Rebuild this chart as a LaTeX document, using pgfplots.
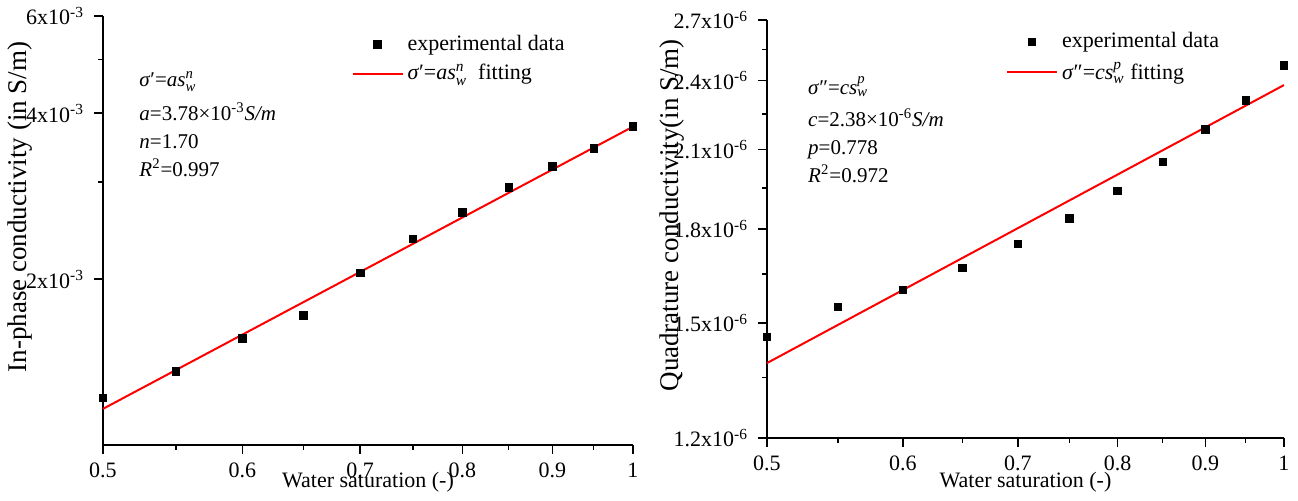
\documentclass[border=0pt]{standalone}
\usepackage{amsmath}
\usepackage{fontspec}
\setmainfont{Liberation Serif}
\usepackage{pgfplots}
\pgfplotsset{compat=1.18}
\pgfplotsset{
  legend image code/.code={\draw[mark repeat=2,mark phase=2,#1] plot coordinates {(0pt,0pt) (12.5pt,0pt) (25pt,0pt)};},
}
\pgfplotsset{
  mystyle/.style={
    scale only axis,
    xmin=0.5, xmax=1,
    axis x line*=bottom, axis y line*=left,
    axis line style={-, line width=0.7pt},
    tick align=outside,
    major tick length=4.5pt, minor tick length=2.5pt,
    every tick/.style={black, line width=0.7pt},
    xtick={0.5,0.6,0.7,0.8,0.9,1},
    xticklabels={0.5,0.6,0.7,0.8,0.9,1},
    minor xtick={0.55,0.65,0.75,0.85,0.95},
    tick label style={font=\fontsize{11}{13}\selectfont},
    xticklabel style={yshift=-1pt},
    yticklabel style={xshift=-1.5pt},
    xlabel style={font=\fontsize{11}{13}\selectfont, at={(axis description cs:0.5,0)}, anchor=north, inner sep=0pt},
    ylabel style={font=\fontsize{13.5}{15}\selectfont, anchor=center, inner sep=0pt},
    clip=false,
    legend cell align=left,
    legend style={draw=none, fill=none, font=\fontsize{11}{13}\selectfont, anchor=north west, row sep=1.5pt,
      /tikz/every even column/.append style={column sep=3pt}},
  },
  datastyle/.style={only marks, mark=square*, mark size=1.9pt, black},
  fitstyle/.style={red, line width=1pt, mark=none},
}
\begin{document}
\begin{tikzpicture}
\path[use as bounding box] (0,0) rectangle (649pt,250.5pt);
% Left panel
\begin{loglogaxis}[mystyle,
  at={(51.5pt,28pt)}, anchor=south west,
  width=265pt, height=214.5pt,
  ymin=1e-3, ymax=6e-3,
  ytick={2e-3,4e-3,6e-3},
  yticklabels={2x10\textsuperscript{-3},4x10\textsuperscript{-3},6x10\textsuperscript{-3}},
  minor ytick={3e-3,5e-3},
  xlabel={Water saturation (-)},
  xlabel style={yshift=-13.5pt},
  ylabel={In-phase conductivity (in S/m)},
  ylabel style={at={(axis description cs:-0.157,0.555)}},
  legend style={at={(axis description cs:0.457,0.975)}},
]
\addplot[datastyle] coordinates {
(0.5,1.218e-3)(0.55,1.359e-3)(0.6,1.560e-3)(0.65,1.720e-3)(0.7,2.051e-3)(0.75,2.366e-3)(0.8,2.639e-3)(0.85,2.932e-3)(0.9,3.202e-3)(0.95,3.454e-3)(1,3.788e-3)};
\addlegendentry{experimental data}
\addplot[fitstyle] coordinates {(0.5,1.163e-3)(1,3.78e-3)};
\addlegendentry{\textit{σ}′=$\textit{as}_{\textit{w}}^{\textit{n}}$\ \ fitting}
\node[anchor=north west, align=left, inner sep=0pt, font=\fontsize{10.5}{14}\selectfont] at (axis description cs:0.068,0.872)
{\textit{σ}′=$\textit{as}_{\textit{w}}^{\textit{n}}$\\[3pt]
\textit{a}=3.78×10\textsuperscript{-3}\textit{S/m}\\
\textit{n}=1.70\\
\textit{R}\textsuperscript{2}=0.997};
\end{loglogaxis}
% Right panel
\begin{loglogaxis}[mystyle,
  at={(383.5pt,31.5pt)}, anchor=south west,
  width=258.5pt, height=209pt,
  ymin=1.2e-6, ymax=2.7e-6,
  ytick={1.2e-6,1.5e-6,1.8e-6,2.1e-6,2.4e-6,2.7e-6},
  yticklabels={1.2x10\textsuperscript{-6},1.5x10\textsuperscript{-6},1.8x10\textsuperscript{-6},2.1x10\textsuperscript{-6},2.4x10\textsuperscript{-6},2.7x10\textsuperscript{-6}},
  minor ytick={1.35e-6,1.65e-6,1.95e-6,2.25e-6,2.55e-6},
  xlabel={Water saturation (-)},
  xlabel style={yshift=-17pt},
  ylabel={Quadrature conductivity(in S/m)},
  ylabel style={at={(axis description cs:-0.183,0.533)}},
  legend style={at={(axis description cs:0.45,0.99)}},
]
\addplot[datastyle] coordinates {
(0.5,1.460e-6)(0.55,1.548e-6)(0.6,1.600e-6)(0.65,1.669e-6)(0.7,1.749e-6)(0.75,1.838e-6)(0.8,1.938e-6)(0.85,2.051e-6)(0.9,2.183e-6)(0.95,2.309e-6)(1,2.472e-6)};
\addlegendentry{experimental data}
\addplot[fitstyle] coordinates {(0.5,1.388e-6)(1,2.38e-6)};
\addlegendentry{\textit{σ}″=$\textit{cs}_{\textit{w}}^{\textit{p}}$ fitting}
\node[anchor=north west, align=left, inner sep=0pt, font=\fontsize{10.5}{14}\selectfont] at (axis description cs:0.079,0.866)
{\textit{σ}″=$\textit{cs}_{\textit{w}}^{\textit{p}}$\\[2pt]
\textit{c}=2.38×10\textsuperscript{-6}\textit{S/m}\\
\textit{p}=0.778\\
\textit{R}\textsuperscript{2}=0.972};
\end{loglogaxis}
\end{tikzpicture}
\end{document}
